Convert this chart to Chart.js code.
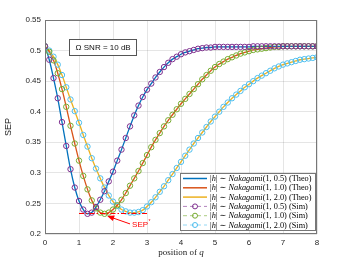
<!DOCTYPE html>
<html>
<head>
<meta charset="utf-8">
<script src="https://cdn.jsdelivr.net/npm/chart.js@4.4.0/dist/chart.umd.min.js"></script>
<style>
  html, body { margin: 0; padding: 0; background: #fff; }
  canvas { display: block; }
</style>
</head>
<body>
<canvas id="sepChart" width="350" height="263"></canvas>
<script>
// --- Data ---
const qGrid = [
  0, 0.125, 0.25, 0.375, 0.5, 0.625, 0.75, 0.875,
  1, 1.125, 1.25, 1.375, 1.5, 1.625, 1.75, 1.875,
  2, 2.125, 2.25, 2.375, 2.5, 2.625, 2.75, 2.875,
  3, 3.125, 3.25, 3.375, 3.5, 3.625, 3.75, 3.875,
  4, 4.125, 4.25, 4.375, 4.5, 4.625, 4.75, 4.875,
  5, 5.125, 5.25, 5.375, 5.5, 5.625, 5.75, 5.875,
  6, 6.125, 6.25, 6.375, 6.5, 6.625, 6.75, 6.875,
  7, 7.125, 7.25, 7.375, 7.5, 7.625, 7.75, 7.875, 8
];
const sepNak05 = [
  0.507, 0.485, 0.455, 0.422, 0.383, 0.344, 0.306, 0.276,
  0.254, 0.240, 0.233, 0.235, 0.244, 0.256, 0.270, 0.286,
  0.302, 0.320, 0.338, 0.357, 0.376, 0.394, 0.410, 0.424,
  0.436, 0.446, 0.456, 0.465, 0.473, 0.480, 0.486, 0.490,
  0.494, 0.497, 0.499, 0.501, 0.503, 0.504, 0.505, 0.505,
  0.506, 0.506, 0.506, 0.506, 0.506, 0.506, 0.506, 0.506,
  0.506, 0.507, 0.507, 0.507, 0.507, 0.507, 0.507, 0.507,
  0.507, 0.507, 0.507, 0.507, 0.507, 0.507, 0.507, 0.507, 0.507
];
const sepNak10 = [
  0.507, 0.498, 0.484, 0.463, 0.437, 0.408, 0.377, 0.348,
  0.320, 0.295, 0.273, 0.255, 0.242, 0.235, 0.233, 0.235,
  0.240, 0.247, 0.256, 0.267, 0.279, 0.291, 0.303, 0.316,
  0.329, 0.342, 0.354, 0.365, 0.376, 0.386, 0.395, 0.404,
  0.413, 0.421, 0.429, 0.437, 0.445, 0.453, 0.460, 0.467,
  0.473, 0.478, 0.482, 0.486, 0.489, 0.492, 0.495, 0.497,
  0.499, 0.501, 0.502, 0.503, 0.504, 0.505, 0.506, 0.506,
  0.507, 0.507, 0.507, 0.507, 0.507, 0.507, 0.507, 0.507, 0.507
];
const sepNak20 = [
  0.507, 0.500, 0.490, 0.477, 0.460, 0.440, 0.420, 0.401,
  0.382, 0.362, 0.343, 0.324, 0.307, 0.291, 0.276, 0.263,
  0.253, 0.246, 0.240, 0.237, 0.235, 0.235, 0.236, 0.239,
  0.245, 0.252, 0.260, 0.269, 0.278, 0.288, 0.298, 0.308,
  0.318, 0.328, 0.338, 0.348, 0.357, 0.366, 0.375, 0.384,
  0.392, 0.400, 0.408, 0.415, 0.422, 0.428, 0.434, 0.440,
  0.445, 0.450, 0.455, 0.459, 0.463, 0.467, 0.471, 0.474,
  0.477, 0.479, 0.481, 0.483, 0.485, 0.486, 0.487, 0.488, 0.489
];
const shapeParams = ['0.5', '1.0', '2.0'];
const theoColors = ['#0072BD', '#D95319', '#EDB120'];
const simColors = ['#7E2F8E', '#77AC30', '#4DBEEE'];
const sepStar = 0.2335;
const sepStarSpan = [1, 3];

// --- Build datasets ---
const seriesValues = [sepNak05, sepNak10, sepNak20];
const toPoints = vals => qGrid.map((q, i) => ({ x: q, y: vals[i] }));

const datasets = [];
seriesValues.forEach((vals, i) => {
  datasets.push({
    label: `Theo ${shapeParams[i]}`,
    data: toPoints(vals),
    borderColor: theoColors[i],
    borderWidth: 1.3,
    pointRadius: 0,
    fill: false,
    cubicInterpolationMode: 'monotone',
    order: 2
  });
});
seriesValues.forEach((vals, i) => {
  datasets.push({
    label: `Sim ${shapeParams[i]}`,
    data: toPoints(vals),
    showLine: false,
    pointRadius: 2.7,
    pointBorderWidth: 1,
    pointBorderColor: simColors[i],
    pointBackgroundColor: 'rgba(0,0,0,0)',
    order: 1
  });
});
datasets.push({
  label: 'SEP*',
  data: sepStarSpan.map(q => ({ x: q, y: sepStar })),
  borderColor: '#FF0000',
  borderWidth: 1.2,
  borderDash: [5, 2, 1.5, 2],
  pointRadius: 0,
  order: 0
});

// --- Overlay: box, annotation, arrow, legend, axis titles ---
const overlay = {
  id: 'overlay',
  afterDraw(chart) {
    const { ctx, chartArea: a, scales: { x, y } } = chart;
    ctx.save();

    // axis box
    ctx.strokeStyle = '#777';
    ctx.lineWidth = 1;
    ctx.strokeRect(a.left + 0.5, a.top + 0.5, a.right - a.left - 1, a.bottom - a.top - 1);

    // SNR text box
    const bx = x.getPixelForValue(0.71), by = y.getPixelForValue(0.519);
    const bw = 67, bh = 16;
    ctx.fillStyle = '#fff';
    ctx.fillRect(bx, by, bw, bh);
    ctx.strokeStyle = '#555';
    ctx.strokeRect(Math.round(bx) + 0.5, Math.round(by) + 0.5, bw, bh);
    ctx.fillStyle = '#111';
    ctx.font = '8px "Liberation Sans", Arial, sans-serif';
    ctx.textAlign = 'center';
    ctx.textBaseline = 'middle';
    ctx.fillText('\u03A9 SNR = 10 dB', bx + bw / 2 + 0.5, by + bh / 2 + 1);

    // SEP* arrow and label
    const tx = x.getPixelForValue(2.5), ty = y.getPixelForValue(0.2165);
    const hx = x.getPixelForValue(1.83), hy = y.getPixelForValue(0.2295);
    const ang = Math.atan2(hy - ty, hx - tx);
    ctx.strokeStyle = '#FF0000';
    ctx.fillStyle = '#FF0000';
    ctx.lineWidth = 1;
    ctx.beginPath();
    ctx.moveTo(tx, ty);
    ctx.lineTo(hx - 5 * Math.cos(ang), hy - 5 * Math.sin(ang));
    ctx.stroke();
    ctx.beginPath();
    ctx.moveTo(hx, hy);
    ctx.lineTo(hx - 7 * Math.cos(ang) + 3 * Math.sin(ang), hy - 7 * Math.sin(ang) - 3 * Math.cos(ang));
    ctx.lineTo(hx - 7 * Math.cos(ang) - 3 * Math.sin(ang), hy - 7 * Math.sin(ang) + 3 * Math.cos(ang));
    ctx.closePath();
    ctx.fill();
    ctx.textAlign = 'left';
    ctx.textBaseline = 'middle';
    ctx.font = '8px "Liberation Sans", Arial, sans-serif';
    const lx = x.getPixelForValue(2.56), ly = y.getPixelForValue(0.2145);
    ctx.fillText('SEP', lx, ly);
    const sw = ctx.measureText('SEP').width;
    ctx.font = '5px "Liberation Sans", Arial, sans-serif';
    ctx.fillText('*', lx + sw + 0.5, ly - 4);

    // legend
    const L = { left: 180, top: 173, right: 315, bottom: 230 };
    ctx.fillStyle = '#fff';
    ctx.fillRect(L.left, L.top, L.right - L.left, L.bottom - L.top);
    ctx.strokeStyle = '#777';
    ctx.strokeRect(L.left + 0.5, L.top + 0.5, L.right - L.left, L.bottom - L.top);
    const serif = '"Liberation Serif", "DejaVu Serif", serif';
    const rowH = 9.3;
    for (let r = 0; r < 6; r++) {
      const cy = L.top + 5.5 + r * rowH;
      const k = r % 3;
      const isSim = r >= 3;
      if (!isSim) {
        ctx.strokeStyle = theoColors[k];
        ctx.lineWidth = 1.5;
        ctx.setLineDash([]);
        ctx.beginPath(); ctx.moveTo(183, cy); ctx.lineTo(207, cy); ctx.stroke();
      } else {
        ctx.strokeStyle = simColors[k];
        ctx.globalAlpha = 0.6;
        ctx.lineWidth = 1;
        ctx.setLineDash([4, 3]);
        ctx.beginPath(); ctx.moveTo(183, cy); ctx.lineTo(207, cy); ctx.stroke();
        ctx.setLineDash([]);
        ctx.globalAlpha = 1;
        ctx.beginPath(); ctx.arc(195, cy, 2.5, 0, Math.PI * 2); ctx.stroke();
      }
      const parts = [
        ['|', false], ['h', true], ['| \u223C ', false], ['Nakagami', true],
        [`(1, ${shapeParams[k]}) (${isSim ? 'Sim' : 'Theo'})`, false]
      ];
      let px = 210;
      ctx.fillStyle = '#000';
      ctx.textAlign = 'left';
      ctx.textBaseline = 'middle';
      parts.forEach(([t, it]) => {
        ctx.font = `${it ? 'italic ' : ''}8.3px ${serif}`;
        ctx.fillText(t, px, cy + 0.5);
        px += ctx.measureText(t).width;
      });
    }

    // x title
    ctx.fillStyle = '#222';
    ctx.textBaseline = 'middle';
    ctx.font = `9px ${serif}`;
    const t1 = 'position of ';
    const w1 = ctx.measureText(t1).width;
    ctx.font = `italic 9px ${serif}`;
    const w2 = ctx.measureText('q').width;
    const sx = (a.left + a.right) / 2 - (w1 + w2) / 2;
    ctx.font = `9px ${serif}`;
    ctx.textAlign = 'left';
    ctx.fillText(t1, sx, 253);
    ctx.font = `italic 9px ${serif}`;
    ctx.fillText('q', sx + w1, 253);

    // y title
    ctx.translate(9, (a.top + a.bottom) / 2);
    ctx.rotate(-Math.PI / 2);
    ctx.font = '9px "Liberation Sans", Arial, sans-serif';
    ctx.textAlign = 'center';
    ctx.fillText('SEP', 0, 0);
    ctx.restore();
  }
};

const tickFont = { family: '"Liberation Sans", Arial, sans-serif', size: 8 };
const gridColor = 'rgba(38,38,38,0.12)';

new Chart(document.getElementById('sepChart').getContext('2d'), {
  type: 'line',
  data: { datasets },
  options: {
    responsive: false,
    animation: false,
    layout: { padding: { top: 20, right: 33, left: 0, bottom: 0 } },
    plugins: { legend: { display: false }, tooltip: { enabled: false } },
    scales: {
      x: {
        type: 'linear', min: 0, max: 8,
        ticks: { stepSize: 1, font: tickFont, color: '#262626', padding: 4, maxRotation: 0 },
        grid: { color: gridColor, drawTicks: false },
        border: { display: false },
        afterFit: s => { s.height = 29; }
      },
      y: {
        min: 0.2, max: 0.55,
        ticks: {
          stepSize: 0.05, font: tickFont, color: '#262626', padding: 4,
          callback: v => String(+v.toFixed(2))
        },
        grid: { color: gridColor, drawTicks: false },
        border: { display: false },
        afterFit: s => { s.width = 45; }
      }
    }
  },
  plugins: [overlay]
});
</script>
</body>
</html>
